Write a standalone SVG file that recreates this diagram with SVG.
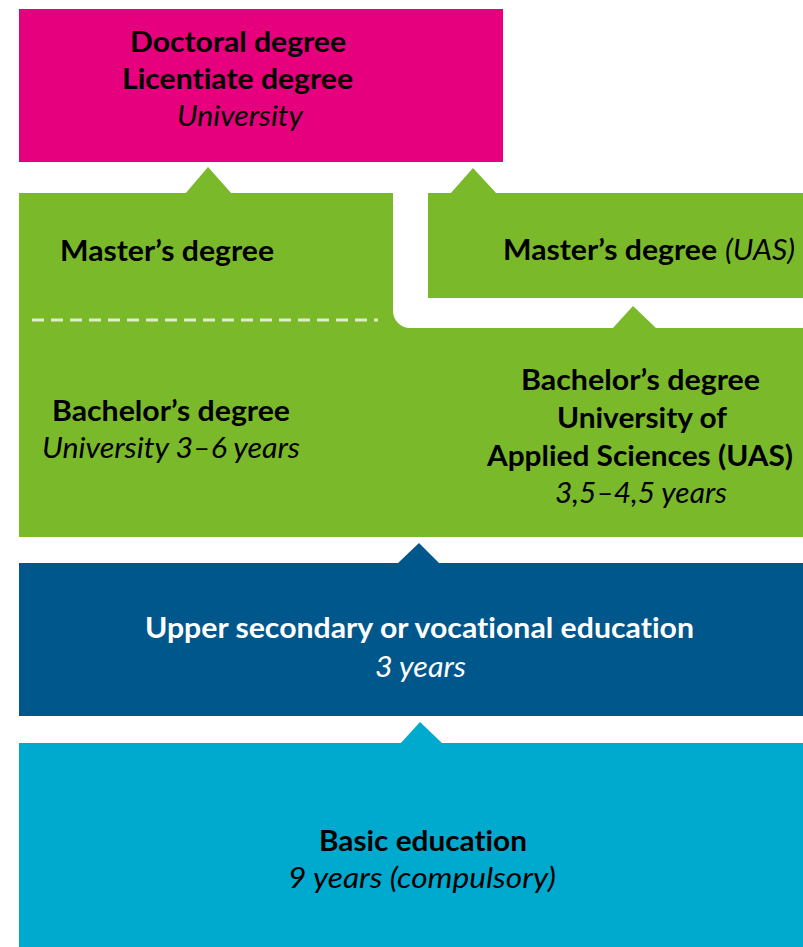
<svg xmlns="http://www.w3.org/2000/svg" width="803" height="947" viewBox="0 0 803 947">
<style>
.t{font-family:Lato,"Open Sans","Liberation Sans",sans-serif;font-size:29px;fill:#000;font-variant-ligatures:none;font-feature-settings:"liga" 0,"dlig" 0}
.b{font-weight:bold}
.i{font-style:italic;font-weight:normal}
.w{fill:#fff}
.pink{fill:#E6007E}
.green{fill:#7AB92A}
.blue{fill:#00578C}
.cyan{fill:#00AACE}
</style>
<rect width="803" height="947" fill="#fff"/>
<g id="doctoral">
<rect class="pink" x="19" y="9" width="484" height="153"/>
<text class="t b" x="130" y="52" textLength="216" lengthAdjust="spacingAndGlyphs">Doctoral degree</text>
<text class="t b" x="122" y="89" textLength="231" lengthAdjust="spacingAndGlyphs">Licentiate degree</text>
<text class="t i" x="177" y="126" textLength="126" lengthAdjust="spacingAndGlyphs">University</text>
</g>
<g id="university-degrees">
<path class="green" d="M19,193 H393 V311 A17,17 0 0 0 410,328 H803 V537 H19 Z"/>
<line x1="32" y1="320" x2="378" y2="320" stroke="#fff" stroke-opacity="0.75" stroke-width="3" stroke-dasharray="12 7"/>
<g id="master-university">
<text class="t b" x="60" y="261" textLength="214" lengthAdjust="spacingAndGlyphs">Master’s degree</text>
</g>
<g id="bachelor-university">
<text class="t b" x="52" y="421" textLength="238" lengthAdjust="spacingAndGlyphs">Bachelor’s degree</text>
<text class="t i" x="42" y="458" textLength="258" lengthAdjust="spacingAndGlyphs">University 3–6 years</text>
</g>
<g id="bachelor-uas">
<text class="t b" x="521" y="390" textLength="239" lengthAdjust="spacingAndGlyphs">Bachelor’s degree</text>
<text class="t b" x="557" y="428" textLength="170" lengthAdjust="spacingAndGlyphs">University of</text>
<text class="t b" x="487" y="466" textLength="306" lengthAdjust="spacingAndGlyphs">Applied Sciences (UAS)</text>
<text class="t i" x="555" y="503" textLength="172" lengthAdjust="spacingAndGlyphs">3,5–4,5 years</text>
</g>
</g>
<g id="master-uas">
<rect class="green" x="428" y="193" width="375" height="105"/>
<text class="t b" x="503" y="260" textLength="214" lengthAdjust="spacingAndGlyphs">Master’s degree</text>
<text class="t i" x="725" y="260" textLength="70" lengthAdjust="spacingAndGlyphs">(UAS)</text>
</g>
<g id="upper-secondary">
<rect class="blue" x="19" y="563" width="784" height="153"/>
<text class="t b w" x="145" y="638" textLength="549" lengthAdjust="spacingAndGlyphs">Upper secondary or vocational education</text>
<text class="t i w" x="375" y="677" textLength="91" lengthAdjust="spacingAndGlyphs">3 years</text>
</g>
<g id="basic-education">
<rect class="cyan" x="19" y="743" width="784" height="204"/>
<text class="t b" x="319" y="851" textLength="208" lengthAdjust="spacingAndGlyphs">Basic education</text>
<text class="t i" x="288" y="888" textLength="268" lengthAdjust="spacingAndGlyphs">9 years (compulsory)</text>
</g>
<g id="connectors">
<polygon class="green" points="185,194 208,167 232,194"/>
<polygon class="green" points="450,194 473,168 497,194"/>
<polygon class="green" points="612,329 633,306 657,329"/>
<polygon class="blue" points="397,564 419,543 440,564"/>
<polygon class="cyan" points="400,744 420,722 443,744"/>
</g>
</svg>
